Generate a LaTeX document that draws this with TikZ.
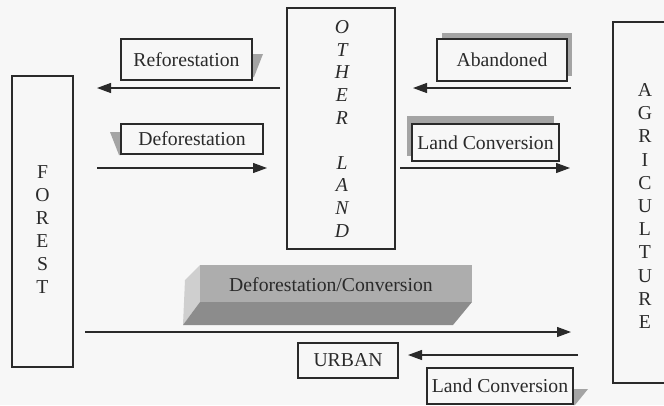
\documentclass[tikz,border=0pt]{standalone}
\usepackage{fontspec}
\setmainfont{Liberation Serif}
\usetikzlibrary{arrows.meta}
\definecolor{bg}{HTML}{F7F7F7}
\definecolor{ink}{HTML}{2A2A2A}
\definecolor{shade}{HTML}{A4A4A4}
\definecolor{barmid}{HTML}{ADADAD}
\definecolor{bardark}{HTML}{8C8C8C}
\definecolor{barlight}{HTML}{CFCFCF}
\begin{document}
\begin{tikzpicture}[x=1bp,y=-1bp,
  every node/.style={font=\fontsize{19.7bp}{23bp}\selectfont, text=ink, inner sep=0pt},
  tallbox/.style={draw=ink, line width=1.1bp},
  labelbox/.style={draw=ink, line width=1.1bp, fill=bg},
  letters/.style={align=center},
  flow/.style={draw=ink, line width=1.2bp, -{Triangle[length=14bp,width=10bp]}},
  shadowfill/.style={fill=shade, draw=none}]
\path[fill=bg] (0,0) rectangle (664,405);
\useasboundingbox (0,0) rectangle (664,405);

% tall boxes
\node[tallbox, minimum width=61bp, minimum height=291bp] (forest) at (42.5,221.5) {};
\node[letters] (forestlbl) at (42.5,229.5) {F\\O\\R\\E\\S\\T};
\node[tallbox, minimum width=108bp, minimum height=241bp] (other) at (341,128.5) {};
\node[letters, font={\fontsize{19.7bp}{22.6bp}\selectfont\itshape}] (otherlbl) at (342,128.8) {O\\T\\H\\E\\R\\\mbox{}\\L\\A\\N\\D};
\node[tallbox, minimum width=64bp, minimum height=361bp] (agri) at (645,202.5) {};
\node[letters, font={\fontsize{19.7bp}{23.2bp}\selectfont}] (agrilbl) at (645,206) {A\\G\\R\\I\\C\\U\\L\\T\\U\\R\\E};

% shadows
\path[shadowfill] (252,54) -- (263,54) -- (254,77) -- (252,77) -- cycle;
\path[shadowfill] (110,132) -- (121,132) -- (121,155) -- (119,155) -- cycle;
\path[shadowfill] (442,33) rectangle (572,76);
\path[shadowfill] (407,116) rectangle (554,156);
\path[shadowfill] (573,389) -- (588,389) -- (575,405) -- (573,405) -- cycle;

% label boxes
\node[labelbox, minimum width=131bp, minimum height=41bp] (refo) at (186.5,59.5) {Reforestation};
\node[labelbox, minimum width=142bp, minimum height=30bp] (defo) at (192,139) {Deforestation};
\node[labelbox, minimum width=130bp, minimum height=42bp] (aband) at (502,60) {Abandoned};
\node[labelbox, minimum width=147bp, minimum height=37bp] (lconv) at (485.5,142.5) {Land Conversion};
\node[labelbox, minimum width=100bp, minimum height=35bp] (urban) at (348,360.5) {URBAN};
\node[labelbox, minimum width=146bp, minimum height=36bp] (lconvb) at (500,386) {Land Conversion};

% 3D bar
\fill[barlight] (200,265) -- (185,280) -- (183,325) -- (200,302) -- cycle;
\fill[bardark] (200,302) -- (472,302) -- (453,325) -- (183,325) -- cycle;
\fill[barmid] (200,265) rectangle (472,302);
\node (barlbl) at (331,285) {Deforestation/Conversion};

% arrows
\coordinate (r1) at (280,88);  \coordinate (r2) at (97,88);
\coordinate (d1) at (97,168);  \coordinate (d2) at (267,168);
\coordinate (b1) at (571,88);  \coordinate (b2) at (413,88);
\coordinate (c1) at (400,168); \coordinate (c2) at (570,168);
\coordinate (l1) at (85,332);  \coordinate (l2) at (571,332);
\coordinate (u1) at (578,355); \coordinate (u2) at (408,355);
\draw[flow] (r1) -- (r2);
\draw[flow] (d1) -- (d2);
\draw[flow] (b1) -- (b2);
\draw[flow] (c1) -- (c2);
\draw[flow] (l1) -- (l2);
\draw[flow] (u1) -- (u2);
\end{tikzpicture}
\end{document}
